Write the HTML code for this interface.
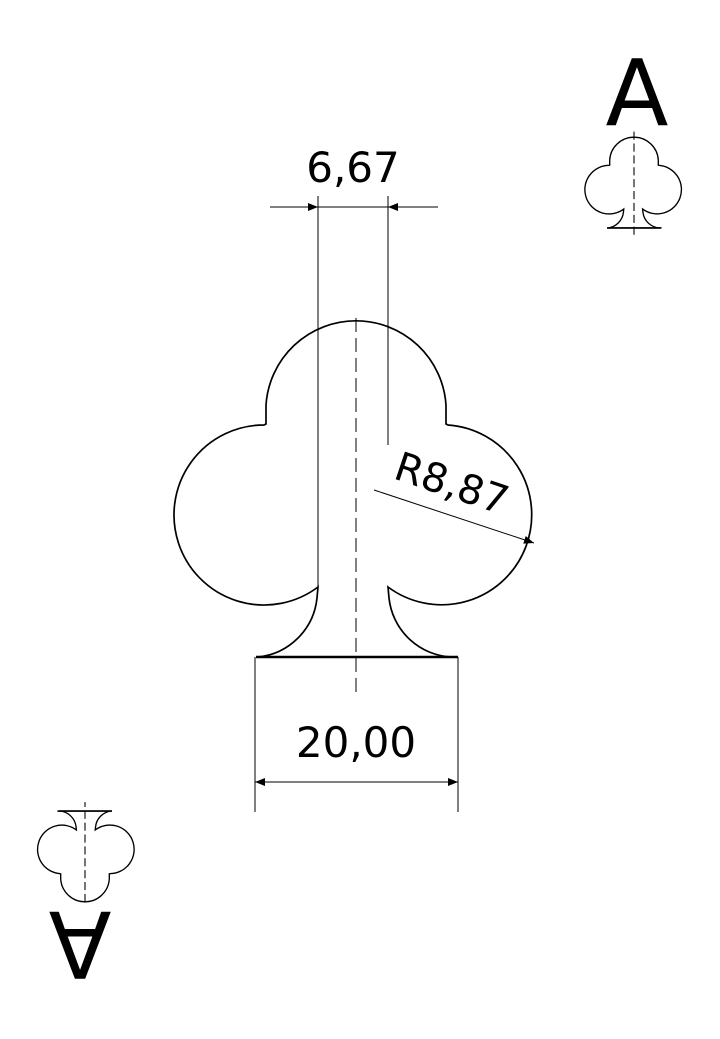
<!DOCTYPE html>
<html><head><meta charset="utf-8"><style>
html,body{margin:0;padding:0;background:#fff;width:720px;height:1039px;overflow:hidden}
</style></head><body>
<svg width="720" height="1039" viewBox="0 0 720 1039" xmlns="http://www.w3.org/2000/svg" font-family="'DejaVu Sans','Liberation Sans',sans-serif">
<defs>
<g id="club">
<path d="M266,424 L266,405 A90.2,90.2 0 0 1 446,405 L446,424 L448,425 A90,90 0 1 1 388,587 L389,598 A66,66 0 0 0 452,657 L258,657 A66,66 0 0 0 317,598 L318,587 A90,90 0 1 1 264,425 Z" fill="none" stroke="#000"/>
</g>
<marker id="arr" viewBox="0 0 10 10" refX="10" refY="5" markerWidth="26" markerHeight="10" markerUnits="userSpaceOnUse" orient="auto"><path d="M0,1 L10,5 L0,9 Z" fill="#000"/></marker>
</defs>
<g stroke-width="1.7"><use href="#club"/>
<line x1="256" y1="657" x2="458" y2="657" stroke="#000" stroke-width="2.4"/></g>
<line x1="356" y1="318" x2="356" y2="692" stroke="#000" stroke-width="1" stroke-dasharray="14,6"/>
<g stroke="#000" stroke-width="1">
<line x1="318" y1="196" x2="318" y2="587"/>
<line x1="388" y1="196" x2="388" y2="445"/>
<line x1="270" y1="207" x2="318" y2="207" marker-end="url(#arr)"/>
<line x1="438" y1="207" x2="388" y2="207" marker-end="url(#arr)"/>
<line x1="318" y1="207" x2="388" y2="207"/>
</g>
<text x="353" y="182" font-size="42" text-anchor="middle">6,67</text>
<g stroke="#000" stroke-width="1">
<line x1="255" y1="657" x2="255" y2="812"/>
<line x1="458" y1="657" x2="458" y2="812"/>
<line x1="356" y1="782" x2="255" y2="782" marker-end="url(#arr)"/>
<line x1="356" y1="782" x2="458" y2="782" marker-end="url(#arr)"/>
</g>
<text x="356" y="757" font-size="42" text-anchor="middle">20,00</text>
<line x1="374" y1="490" x2="534" y2="543" stroke="#000" stroke-width="1" marker-end="url(#arr)"/>
<text x="0" y="0" font-size="40" transform="translate(392,478) rotate(18.5)">R8,87</text>
<text x="637" y="125" font-size="92" text-anchor="middle">A</text>
<g transform="translate(634,137) scale(0.27) translate(-356,-320)" stroke-width="5">
<use href="#club"/>
<line x1="256" y1="657" x2="458" y2="657" stroke="#000" stroke-width="6"/>
<line x1="356" y1="300" x2="356" y2="690" stroke="#000" stroke-width="4" stroke-dasharray="30,14"/>
</g>
<g transform="translate(85,902) rotate(180) scale(0.27) translate(-356,-320)" stroke-width="5">
<use href="#club"/>
<line x1="256" y1="657" x2="458" y2="657" stroke="#000" stroke-width="6"/>
<line x1="356" y1="320" x2="356" y2="690" stroke="#000" stroke-width="4" stroke-dasharray="30,14"/>
</g>
<text x="0" y="0" font-size="92" text-anchor="middle" transform="translate(80,912) rotate(180)">A</text>
</svg>
</body></html>
